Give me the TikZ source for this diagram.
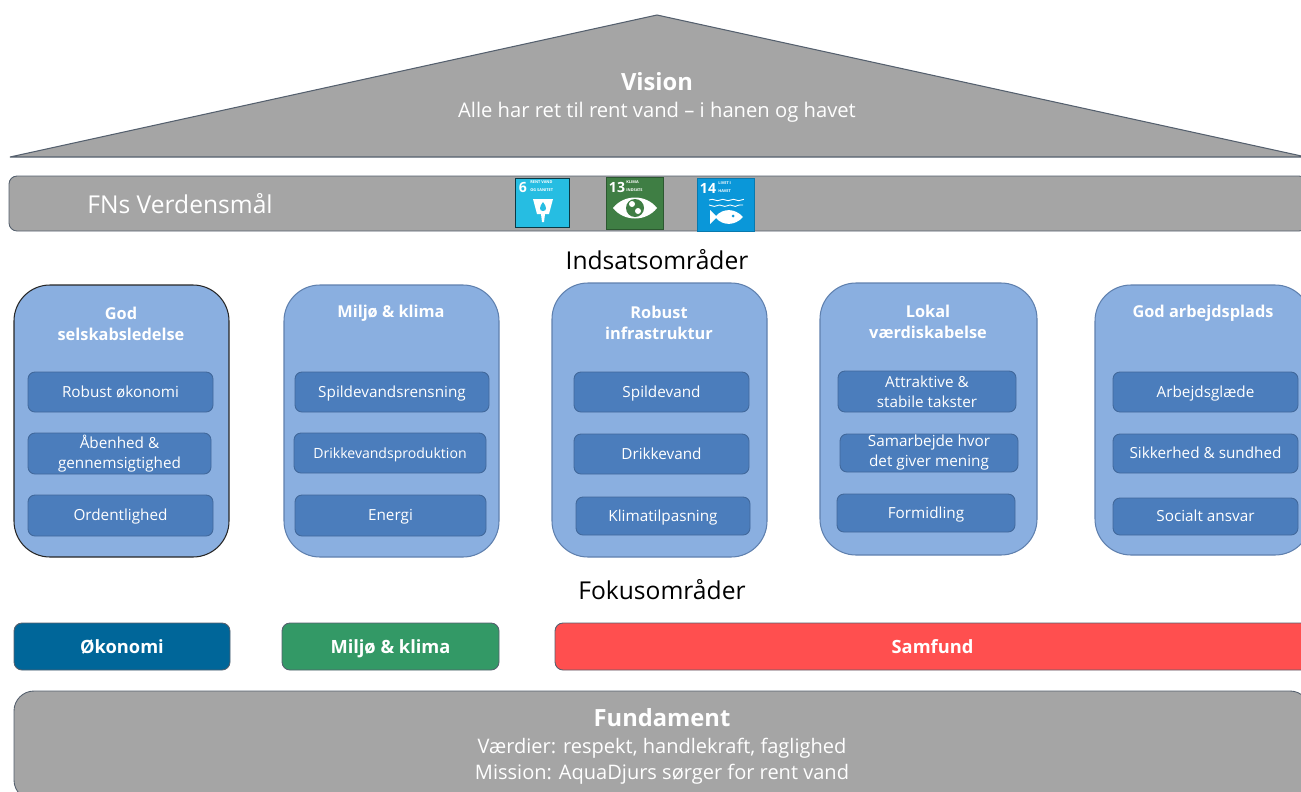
\documentclass[tikz,border=0pt]{standalone}
\usepackage{fontspec}
\setmainfont{Open Sans}
\usetikzlibrary{decorations.pathmorphing}
\definecolor{roofgray}{HTML}{A5A5A5}
\definecolor{edgegray}{HTML}{55606E}
\definecolor{cardblue}{HTML}{8AAFE0}
\definecolor{cardedge}{HTML}{5F80AE}
\definecolor{itemblue}{HTML}{4B7DBC}
\definecolor{itemedge}{HTML}{41689B}
\definecolor{oekoblue}{HTML}{006699}
\definecolor{miljogreen}{HTML}{339966}
\definecolor{samfundred}{HTML}{FF4F4F}
\definecolor{sdgsix}{HTML}{26BDE2}
\definecolor{sdgthirteen}{HTML}{3F7E44}
\definecolor{sdgfourteen}{HTML}{0A97D9}
\tikzset{
	wh/.style 2 args={minimum width=#1*0.02cm,minimum height=#2*0.02cm},
	card/.style={draw=cardedge,line width=0.6pt,fill=cardblue,rounded corners=0.72cm,inner sep=0pt},
	cardtitle/.style={text=white,align=center,inner sep=0pt,font=\fontsize{9.3}{12}\selectfont\bfseries},
	item/.style={draw=itemedge,line width=0.5pt,fill=itemblue,rounded corners=0.14cm,inner sep=0pt,text=white,align=center,font=\fontsize{8.7}{11.4}\selectfont},
	single/.style={text height=6.2pt,text depth=0pt},
	focus/.style={draw=edgegray,line width=0.5pt,rounded corners=0.16cm,inner sep=0pt,text=white,text height=7.4pt,text depth=0pt,font=\fontsize{10.4}{12}\selectfont\bfseries},
	heading/.style={inner sep=0pt,font=\fontsize{14}{16}\selectfont},
	sdg/.style={inner sep=0pt,text=white,align=left},
	sdgnr/.style={sdg,font=\fontsize{8}{8}\selectfont\bfseries},
	sdgname/.style={sdg,anchor=west,font=\fontsize{2.2}{4.6}\selectfont\bfseries},
}
\begin{document}
\begin{tikzpicture}[x=0.02cm,y=-0.02cm]
	\clip (0,0) rectangle (1301,791);
	% roof
	\coordinate (roofleft) at (10,157);
	\coordinate (roofright) at (1306,157);
	\coordinate (rooftop) at (657,15);
	\draw[edgegray,line width=0.6pt,line join=bevel,fill=roofgray] (roofleft) -- (rooftop) -- (roofright) -- cycle;
	\node[text=white,inner sep=0pt,font=\fontsize{13.5}{16}\selectfont\bfseries] (vision) at (657,82) {Vision};
	\node[text=white,inner sep=0pt,font=\fontsize{11.5}{14}\selectfont] (visiontext) at (657,112) {Alle har ret til rent vand -- i hanen og havet};
	% goals
	\node[draw=edgegray,line width=0.5pt,fill=roofgray,rounded corners=0.16cm,wh={1298}{55}] (goals) at (658,203.5) {};
	\node[anchor=west,text=white,inner sep=0pt,font=\fontsize{14}{16}\selectfont] (goalstext) at (87,204) {FNs Verdensmål};
	\node[fill=sdgsix,draw=black!70!sdgsix,line width=0.5pt,wh={54}{49},inner sep=0pt] (six) at (542,202.5) {};
	\node[fill=sdgthirteen,draw=black!30!sdgthirteen,line width=0.5pt,wh={57}{52},inner sep=0pt] (thirteen) at (634.5,203) {};
	\node[fill=sdgfourteen,draw=black!20!sdgfourteen,line width=0.5pt,wh={57}{53},inner sep=0pt] (fourteen) at (725.5,204.5) {};
	\node[sdgnr] (sixnr) at (523,187) {6};
	\node[sdgname] (sixname) at (530,186) {RENT VAND\\OG SANITET};
	\node[sdgnr] (thirteennr) at (617,187) {13};
	\node[sdgname] (thirteenname) at (626,186) {KLIMA\\INDSATS};
	\node[sdgnr] (fourteennr) at (708,188) {14};
	\node[sdgname] (fourteenname) at (718,187) {LIVET I\\HAVET};
	% goal icons
	\fill[white] (533,199) -- (553,199) -- (549,214) -- (545,214) -- (544,222) -- (542,222) -- (541,214) -- (537,214) -- cycle;
	\fill[sdgsix] (543,202) .. controls (539,207) and (539,211) .. (543,211) .. controls (547,211) and (547,207) .. (543,202) -- cycle;
	\fill[white] (613,208) .. controls (624,194) and (646,194) .. (657,208) .. controls (646,222) and (624,222) .. (613,208) -- cycle;
	\fill[sdgthirteen] (635,208) circle (9);
	\fill[white] (632,204) circle (3) (638,211) circle (3);
	\draw[white,line width=0.5pt,decorate,decoration={snake,amplitude=0.4pt,segment length=6pt}] (709,200) -- (743,200) (709,205) -- (743,205);
	\fill[white] (710,210) -- (716,216) .. controls (723,208) and (735,208) .. (743,217) .. controls (735,226) and (723,226) .. (716,218) -- (710,224) -- cycle;
	\fill[sdgfourteen] (733,216) circle (1.5);
	% areas
	\node[heading] (areas) at (657,260) {Indsatsområder};
	\node[card,draw=black!85,wh={215}{272}] (cardone) at (121.5,421) {};
	\node[card,wh={215}{272}] (cardtwo) at (391.5,421) {};
	\node[card,wh={215}{274}] (cardthree) at (659.5,420) {};
	\node[card,wh={217}{272}] (cardfour) at (928.5,419) {};
	\node[card,wh={216}{270}] (cardfive) at (1203,420) {};
	\node[cardtitle] (titleone) at (121,323.5) {God\\selskabsledelse};
	\node[cardtitle] (titletwo) at (391,313) {Miljø \& klima};
	\node[cardtitle] (titlethree) at (659,322.5) {Robust\\infrastruktur};
	\node[cardtitle] (titlefour) at (928,322) {Lokal\\værdiskabelse};
	\node[cardtitle] (titlefive) at (1203,313) {God arbejdsplads};
	\node[item,single,wh={185}{40}] (econ) at (120.5,392) {Robust økonomi};
	\node[item,wh={183}{41}] (open) at (119.5,453.5) {Åbenhed \&\\gennemsigtighed};
	\node[item,single,wh={185}{41}] (order) at (120.5,515.5) {Ordentlighed};
	\node[item,single,wh={194}{40}] (clean) at (392,392) {Spildevandsrensning};
	\node[item,single,wh={192}{40},font=\fontsize{8}{10}\selectfont] (drinkprod) at (390,453) {Drikkevandsproduktion};
	\node[item,single,wh={191}{41}] (energy) at (390.5,515.5) {Energi};
	\node[item,single,wh={175}{40}] (waste) at (661.5,392) {Spildevand};
	\node[item,single,wh={175}{40}] (drink) at (661.5,454) {Drikkevand};
	\node[item,single,wh={174}{38}] (climate) at (663,516) {Klimatilpasning};
	\node[item,wh={178}{41}] (rates) at (927,391.5) {Attraktive \&\\stabile takster};
	\node[item,wh={178}{38}] (collab) at (929,453) {Samarbejde hvor\\det giver mening};
	\node[item,single,wh={178}{38}] (comm) at (926,513) {Formidling};
	\node[item,single,wh={185}{40}] (joy) at (1205.5,392) {Arbejdsglæde};
	\node[item,single,wh={185}{39}] (safety) at (1205.5,453.5) {Sikkerhed \& sundhed};
	\node[item,single,wh={185}{37}] (social) at (1205.5,516.5) {Socialt ansvar};
	% focus
	\node[heading] (focusareas) at (662,590) {Fokusområder};
	\node[focus,fill=oekoblue,wh={216}{47}] (oeko) at (122,646.5) {Økonomi};
	\node[focus,fill=miljogreen,wh={217}{47}] (miljo) at (390.5,646.5) {Miljø \& klima};
	\node[focus,fill=samfundred,wh={755}{47}] (samfund) at (932.5,646.5) {Samfund};
	% foundation
	\node[draw=edgegray,line width=0.5pt,fill=roofgray,rounded corners=0.4cm,wh={1296}{109}] (base) at (662,745.5) {};
	\node[text=white,inner sep=0pt,font=\fontsize{13.5}{16}\selectfont\bfseries] (basetitle) at (662,718) {Fundament};
	\node[text=white,inner sep=0pt,font=\fontsize{11.4}{14}\selectfont] (basevalues) at (662,748) {Værdier: respekt, handlekraft, faglighed};
	\node[text=white,inner sep=0pt,font=\fontsize{11.4}{14}\selectfont] (basemission) at (662,774) {Mission: AquaDjurs sørger for rent vand};
\end{tikzpicture}
\end{document}
